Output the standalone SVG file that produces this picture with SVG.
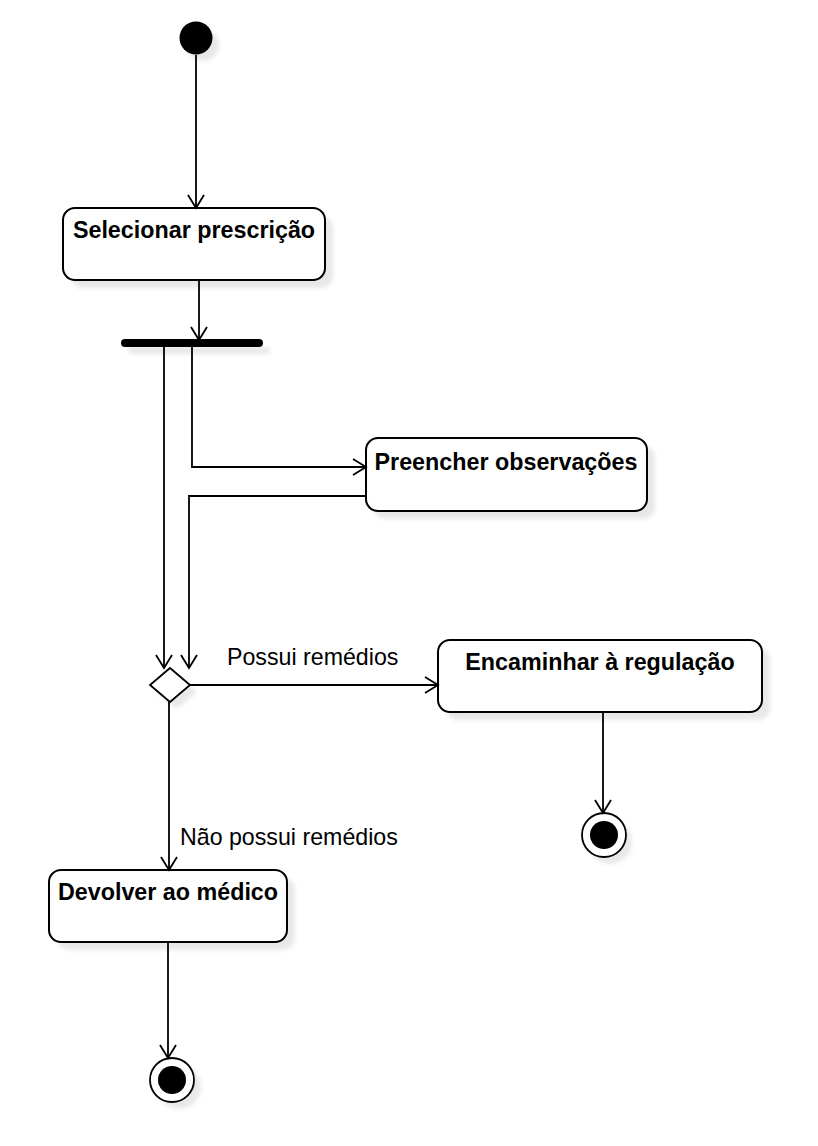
<svg xmlns="http://www.w3.org/2000/svg" width="818" height="1146" viewBox="0 0 818 1146">
<style>
.box{fill:#fff;stroke:#000;stroke-width:2}
.sh{fill:#000;fill-opacity:0.09;filter:url(#blur)}
.t{font-family:"Liberation Sans",Arial,sans-serif;font-weight:bold;font-size:23.3px;text-anchor:middle;fill:#000}
.lbl{font-family:"Liberation Sans",Arial,sans-serif;font-size:23.2px;fill:#000}
.c{fill:none;stroke:#000;stroke-width:1.8;marker-end:url(#arr)}
</style>
<defs>
<filter id="blur" x="-20%" y="-20%" width="140%" height="140%"><feGaussianBlur stdDeviation="2"/></filter>
<marker id="arr" markerWidth="16" markerHeight="20" refX="14" refY="9" orient="auto" markerUnits="userSpaceOnUse">
<path d="M1,1 L14,9 L1,17" fill="none" stroke="#000" stroke-width="1.8"/>
</marker>
</defs>
<g id="start">
<circle class="sh" cx="203" cy="45" r="16"/>
<circle cx="196" cy="38" r="16.5" fill="#000"/>
</g>
<g id="n1">
<rect class="sh" x="71" y="216" width="262" height="72" rx="12"/>
<rect class="box" x="63" y="208" width="262" height="72" rx="12"/>
<text class="t" x="194" y="238">Selecionar prescrição</text>
</g>
<g id="fork">
<rect class="sh" x="128" y="347" width="142" height="7" rx="3"/>
<rect x="121" y="339" width="142" height="8" rx="4" fill="#000"/>
</g>
<g id="n2">
<rect class="sh" x="374" y="446" width="281" height="73" rx="12"/>
<rect class="box" x="366" y="438" width="281" height="73" rx="12"/>
<text class="t" x="506" y="470">Preencher observações</text>
</g>
<g id="decision">
<path class="sh" d="M177,675 L197,692 L177,709 L157,692 Z"/>
<path d="M170,668 L190,685 L170,702 L150,685 Z" fill="#fff" stroke="#000" stroke-width="1.8"/>
</g>
<g id="n3">
<rect class="sh" x="446" y="648" width="324" height="72" rx="12"/>
<rect class="box" x="438" y="640" width="324" height="72" rx="12"/>
<text class="t" x="600" y="670">Encaminhar à regulação</text>
</g>
<g id="end1">
<circle class="sh" cx="610" cy="842" r="22"/>
<circle cx="604" cy="835" r="22" fill="#fff" stroke="#000" stroke-width="1.8"/>
<circle cx="604" cy="835" r="14" fill="#000"/>
</g>
<g id="n4">
<rect class="sh" x="57" y="878" width="238" height="72" rx="12"/>
<rect class="box" x="49" y="870" width="238" height="72" rx="12"/>
<text class="t" x="168" y="900">Devolver ao médico</text>
</g>
<g id="end2">
<circle class="sh" cx="179" cy="1087" r="22"/>
<circle cx="172" cy="1080" r="22" fill="#fff" stroke="#000" stroke-width="1.8"/>
<circle cx="172" cy="1080" r="14" fill="#000"/>
</g>
<g id="connectors">
<path class="c" d="M196,55 L196,208"/>
<path class="c" d="M199,280 L199,340"/>
<path class="c" d="M164,347 L164,668"/>
<path class="c" d="M192,347 L192,467 L366,467"/>
<path class="c" d="M366,496 L189,496 L189,668"/>
<path class="c" d="M190,685 L438,685"/>
<path class="c" d="M169,702 L169,870"/>
<path class="c" d="M603,712 L603,813"/>
<path class="c" d="M168,942 L168,1058"/>
</g>
<text class="lbl" x="227" y="665">Possui remédios</text>
<text class="lbl" x="180" y="845">Não possui remédios</text>
</svg>
